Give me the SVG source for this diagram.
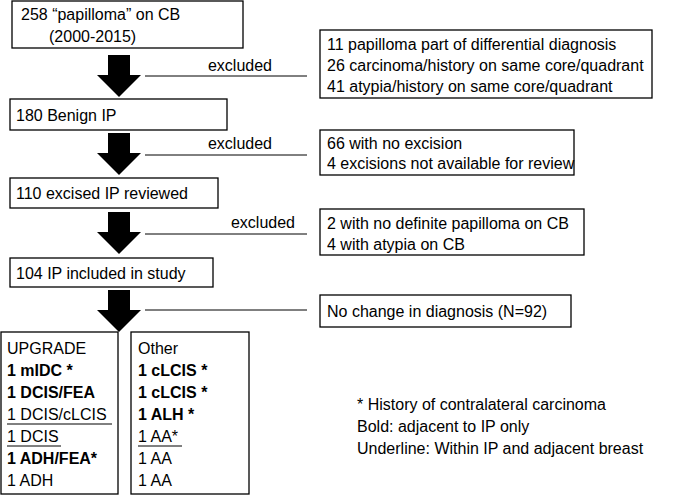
<svg xmlns="http://www.w3.org/2000/svg" width="685" height="496" viewBox="0 0 685 496">
<style>
.b{fill:#fff;stroke:#000;stroke-width:1.3}
text{font-family:"Liberation Sans",Arial,sans-serif;font-size:16px;fill:#000}
.bd{font-weight:bold}
.ln{stroke:#000;stroke-width:1}
.ar{fill:#000}
</style>
<defs>
<path id="arr" d="M-11,0 H11 V20 H22 L0,42 L-22,20 H-11 Z"/>
</defs>
<rect width="685" height="496" fill="#fff"/>
<g id="connectors">
<use href="#arr" class="ar" x="119" y="55"/>
<use href="#arr" class="ar" x="119" y="133"/>
<use href="#arr" class="ar" x="119" y="212"/>
<use href="#arr" class="ar" x="119" y="290"/>
<line class="ln" x1="145" y1="76" x2="307" y2="76"/>
<line class="ln" x1="145" y1="155" x2="307" y2="155"/>
<line class="ln" x1="145" y1="234" x2="307" y2="234"/>
<line class="ln" x1="145" y1="310" x2="307" y2="310"/>
<text x="240" y="71" text-anchor="middle">excluded</text>
<text x="240" y="149" text-anchor="middle">excluded</text>
<text x="263" y="228" text-anchor="middle">excluded</text>
</g>
<g id="n1"><rect class="b" x="12" y="1" width="231" height="47"/>
<text x="21" y="20">258 “papilloma” on CB</text><text x="49" y="42">(2000-2015)</text></g>
<g id="n2"><rect class="b" x="10" y="99" width="217" height="31"/><text x="16" y="121">180 Benign IP</text></g>
<g id="n3"><rect class="b" x="10" y="178" width="208" height="30"/><text x="16" y="199">110 excised IP reviewed</text></g>
<g id="n4"><rect class="b" x="10" y="258" width="203" height="29"/><text x="16" y="279">104 IP included in study</text></g>
<g id="e1"><rect class="b" x="320" y="30" width="332" height="68"/>
<text x="327" y="50">11 papilloma part of differential diagnosis</text>
<text x="327" y="71">26 carcinoma/history on same core/quadrant</text>
<text x="327" y="92">41 atypia/history on same core/quadrant</text></g>
<g id="e2"><rect class="b" x="320" y="130" width="254" height="45"/>
<text x="327" y="149">66 with no excision</text><text x="327" y="169">4 excisions not available for review</text></g>
<g id="e3"><rect class="b" x="320" y="209" width="264" height="46"/>
<text x="327" y="229">2 with no definite papilloma on CB</text><text x="327" y="250">4 with atypia on CB</text></g>
<g id="e4"><rect class="b" x="320" y="295" width="251" height="32"/><text x="327" y="317">No change in diagnosis (N=92)</text></g>
<g id="up"><rect class="b" x="1" y="332" width="117" height="162"/>
<text x="7" y="354">UPGRADE</text>
<text x="7" y="376" class="bd">1 mIDC *</text>
<text x="7" y="398" class="bd">1 DCIS/FEA</text>
<text x="7" y="420">1 DCIS/cLCIS</text><line class="ln" x1="7" y1="424" x2="112" y2="424"/>
<text x="7" y="442">1 DCIS</text><line class="ln" x1="7" y1="446" x2="61" y2="446"/>
<text x="7" y="464" class="bd">1 ADH/FEA*</text>
<text x="7" y="486">1 ADH</text></g>
<g id="other"><rect class="b" x="131" y="332" width="118" height="162"/>
<text x="138" y="354">Other</text>
<text x="138" y="376" class="bd">1 cLCIS *</text>
<text x="138" y="398" class="bd">1 cLCIS *</text>
<text x="138" y="420" class="bd">1 ALH *</text>
<text x="138" y="442">1 AA*</text><line class="ln" x1="138" y1="446" x2="182" y2="446"/>
<text x="138" y="464">1 AA</text>
<text x="138" y="486">1 AA</text></g>
<g id="legend">
<text x="357" y="410">* History of contralateral carcinoma</text>
<text x="357" y="432">Bold: adjacent to IP only</text>
<text x="357" y="454">Underline: Within IP and adjacent breast</text></g>
</svg>
